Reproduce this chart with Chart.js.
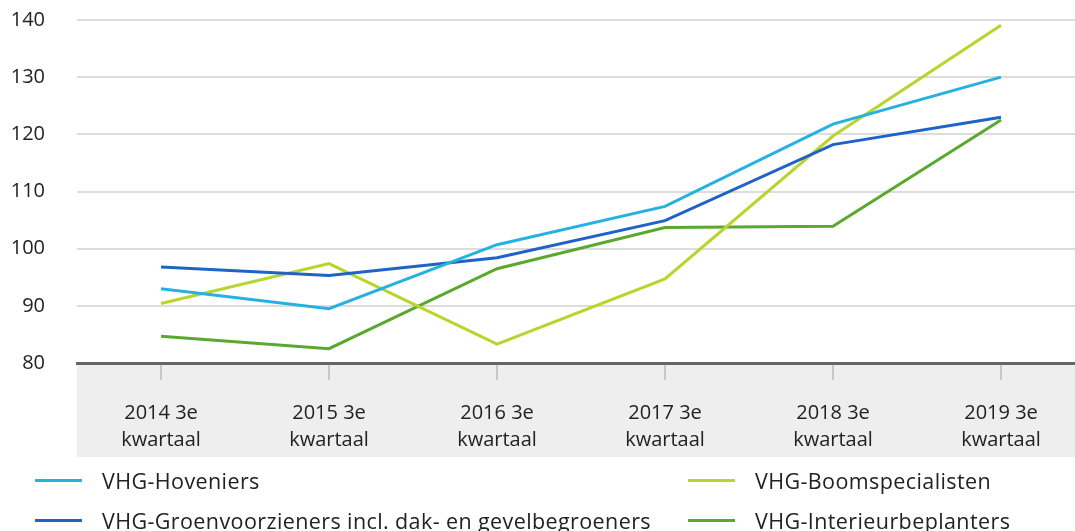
<!DOCTYPE html>
<html>
<head>
<meta charset="utf-8">
<script src="https://cdn.jsdelivr.net/npm/chart.js@4/dist/chart.umd.min.js"></script>
<style>
    body { margin: 0; width: 1075px; height: 531px; overflow: hidden; background: #fff; font-family: "Open Sans", sans-serif; }
    #wrap { position: absolute; left: 0; top: -24px; width: 1090px; height: 498px; }
    #legend { position: absolute; left: 0; top: 0; width: 1075px; height: 531px; pointer-events: none; }
    .item { position: absolute; display: flex; align-items: center; font-size: 21.5px; font-weight: 500; letter-spacing: 0.4px; color: #222; white-space: nowrap; }
    .swatch { width: 47px; height: 3px; margin-right: 20px; }
</style>
</head>
<body>
<div id="wrap"><canvas id="chart"></canvas></div>
<div id="legend"></div>
<script>
const labels = [
    ['2014 3e', 'kwartaal'],
    ['2015 3e', 'kwartaal'],
    ['2016 3e', 'kwartaal'],
    ['2017 3e', 'kwartaal'],
    ['2018 3e', 'kwartaal'],
    ['2019 3e', 'kwartaal']
];
const hoveniers = [93.0, 89.5, 100.7, 107.4, 121.8, 130.0];
const groenvoorzieners = [96.8, 95.3, 98.4, 104.9, 118.2, 123.0];
const boomspecialisten = [90.4, 97.4, 83.3, 94.7, 119.7, 139.1];
const interieurbeplanters = [84.7, 82.5, 96.5, 103.7, 103.9, 122.5];
const yTicks = [80, 90, 100, 110, 120, 130, 140];

// legend position: [left, centerY]
const legendSpots = [[35, 480], [35, 520], [688, 480], [688, 520]];

// grey band under the x axis
const bandPlugin = {
    id: 'band',
    beforeDraw(chart) {
        const ctx = chart.ctx;
        const area = chart.chartArea;
        ctx.save();
        ctx.fillStyle = '#eeeeee';
        ctx.fillRect(area.left, area.bottom, 1075 - area.left, 481 - area.bottom);
        ctx.restore();
    }
};

const chart = new Chart(document.getElementById('chart'), {
    type: 'line',
    data: {
        labels: labels,
        datasets: [
            { label: 'VHG-Hoveniers', data: hoveniers, borderColor: '#25b2e0' },
            { label: 'VHG-Groenvoorzieners incl. dak- en gevelbegroeners', data: groenvoorzieners, borderColor: '#1f63c6' },
            { label: 'VHG-Boomspecialisten', data: boomspecialisten, borderColor: '#b8d52c' },
            { label: 'VHG-Interieurbeplanters', data: interieurbeplanters, borderColor: '#5aa92e' }
        ]
    },
    options: {
        responsive: true,
        maintainAspectRatio: false,
        animation: false,
        layout: { padding: { left: 10, right: 5, top: 0, bottom: 0 } },
        elements: {
            line: { borderWidth: 3, tension: 0 },
            point: { radius: 0 }
        },
        plugins: {
            legend: { display: false },
            tooltip: { enabled: false }
        },
        scales: {
            x: {
                offset: true,
                grid: { offset: false, drawOnChartArea: false, tickLength: 17, color: '#c8c8c8', lineWidth: 2 },
                border: { color: '#666666', width: 3 },
                ticks: {
                    color: '#222',
                    font: { family: '"Open Sans", sans-serif', size: 20, weight: 500, lineHeight: '27px' },
                    padding: 20,
                    maxRotation: 0
                }
            },
            y: {
                min: 80,
                max: 140,
                afterBuildTicks(scale) { scale.ticks = yTicks.map(v => ({ value: v })); },
                afterFit(scale) { scale.width = 67; },
                grid: { color: '#dddddd', lineWidth: 2, drawTicks: false },
                border: { display: false },
                ticks: { color: '#222', font: { family: '"Open Sans", sans-serif', size: 20, weight: 500 }, padding: 32 }
            }
        }
    },
    plugins: [bandPlugin]
});

const legend = document.getElementById('legend');
chart.data.datasets.forEach((ds, i) => {
    const spot = legendSpots[i];
    const item = document.createElement('div');
    item.className = 'item';
    item.style.left = spot[0] + 'px';
    item.style.top = (spot[1] - 14) + 'px';
    item.style.height = '28px';
    item.innerHTML = `<span class="swatch" style="background:${ds.borderColor}"></span>${ds.label}`;
    legend.appendChild(item);
});
</script>
</body>
</html>
